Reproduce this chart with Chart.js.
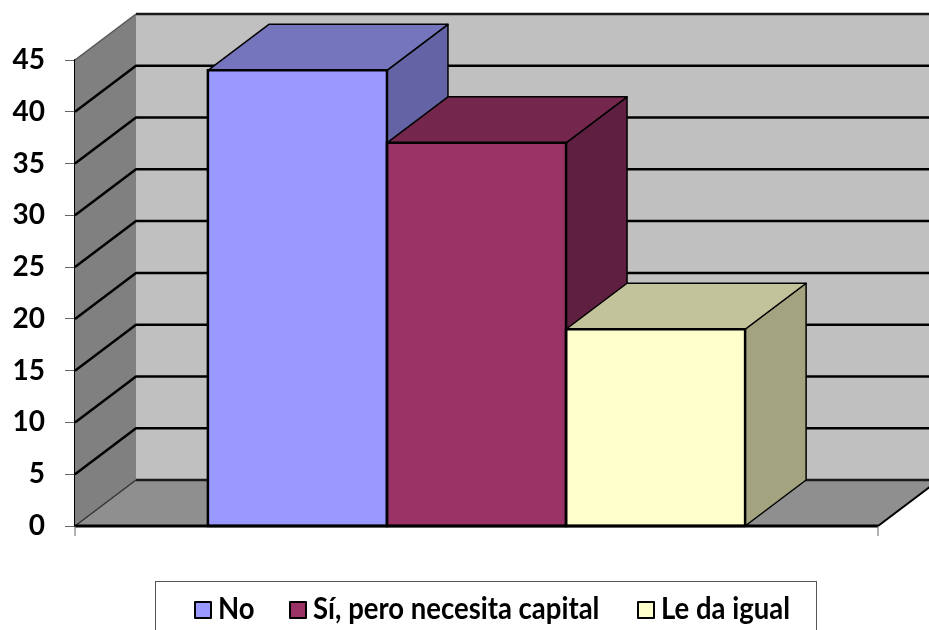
<!DOCTYPE html>
<html lang="es">
<head>
<meta charset="utf-8">
<title>Gráfico</title>
<style>
  html, body { margin:0; padding:0; background:#fff; overflow:hidden; }
  #wrap { position:relative; width:929px; height:630px; overflow:hidden; }
  #legend { position:absolute; left:155px; top:581px; width:660px; height:70px; border:1px solid #555; background:#fff; }
  .li { position:absolute; top:0; font:bold 27.5px Lato, sans-serif; color:#000; line-height:52px; white-space:nowrap; }
  .li i { position:absolute; left:0; top:19px; width:14px; height:14px; border:2.5px solid #000; border-radius:1px; }
  .li span { position:absolute; left:24px; top:0; transform:scaleY(1.12); transform-origin:left 28px; }
</style>
</head>
<body>
<div id="wrap">
  <canvas id="c" width="929" height="630"></canvas>
  <div id="legend"></div>
</div>
<script src="https://cdn.jsdelivr.net/npm/chart.js@4/dist/chart.umd.min.js"></script>
<script>
// ── DATA ──────────────────────────────────────────────────────────────────────
const categories = [''];
const seriesNames = ['No', 'Sí, pero necesita capital', 'Le da igual'];
const noValues = [44];
const siValues = [37];
const igualValues = [19];
const yTicks = [0, 5, 10, 15, 20, 25, 30, 35, 40, 45];

// ── COLOURS ───────────────────────────────────────────────────────────────────
const FRONT = ['#9999ff', '#993366', '#ffffcc'];
const TOP   = ['#7575bd', '#74264d', '#c2c29b'];
const SIDE  = ['#6363a5', '#5f1f40', '#a3a380'];

// depth of the fake 3D box
const DX = 61, DY = 46;

function poly(ctx, pts, fill, stroke, lw) {
  ctx.beginPath();
  pts.forEach((p, i) => i ? ctx.lineTo(p[0], p[1]) : ctx.moveTo(p[0], p[1]));
  ctx.closePath();
  if (fill) { ctx.fillStyle = fill; ctx.fill(); }
  if (stroke) { ctx.strokeStyle = stroke; ctx.lineWidth = lw; ctx.stroke(); }
}

function seg(ctx, pts, color, lw) {
  ctx.beginPath();
  pts.forEach((p, i) => i ? ctx.lineTo(p[0], p[1]) : ctx.moveTo(p[0], p[1]));
  ctx.strokeStyle = color;
  ctx.lineWidth = lw;
  ctx.stroke();
}

// ── WALLS, FLOOR AND BOX DEPTH ────────────────────────────────────────────────
const box3d = {
  id: 'box3d',
  beforeDatasetsDraw(chart) {
    const { ctx, chartArea: a, scales: { y } } = chart;
    const y0 = y.getPixelForValue(0), yMax = y.getPixelForValue(yTicks[yTicks.length - 1]);
    const far = a.right + DX;
    ctx.save();
    ctx.lineJoin = 'round';

    // back wall, side wall, floor
    poly(ctx, [[a.left + DX, yMax - DY], [far, yMax - DY], [far, y0 - DY], [a.left + DX, y0 - DY]], '#c0c0c0');
    poly(ctx, [[a.left, yMax], [a.left + DX, yMax - DY], [a.left + DX, y0 - DY], [a.left, y0]], '#808080');
    poly(ctx, [[a.left, y0], [a.left + DX, y0 - DY], [far, y0 - DY], [a.right, y0]], '#8f8f8f');

    // grid lines run along the side wall and across the back wall
    yTicks.forEach(t => {
      const py = y.getPixelForValue(t);
      if (t === 0) {
        seg(ctx, [[a.left, py], [a.left + DX, py - DY]], '#333', 1.5);
        seg(ctx, [[a.left + DX, py - DY], [far, py - DY]], '#1a1a1a', 2.5);
      } else if (t === yTicks[yTicks.length - 1]) {
        seg(ctx, [[a.left, py], [a.left + DX, py - DY]], '#555', 1.5);
        seg(ctx, [[a.left + DX, py - DY], [far, py - DY]], '#1a1a1a', 2.5);
      } else {
        seg(ctx, [[a.left, py], [a.left + DX, py - DY], [far, py - DY]], '#000', 2.5);
      }
    });
    seg(ctx, [[a.right, y0], [far, y0 - DY]], '#000', 2);

    // top and side face of each bar, left to right so each one overlaps the last
    chart.data.datasets.forEach((ds, i) => {
      const bar = chart.getDatasetMeta(i).data[0];
      const l = bar.x - bar.width / 2, r = bar.x + bar.width / 2, t = bar.y;
      poly(ctx, [[r, t], [r + DX, t - DY], [r + DX, y0 - DY], [r, y0]], SIDE[i], '#000', 1.5);
      poly(ctx, [[l, t], [l + DX, t - DY], [r + DX, t - DY], [r, t]], TOP[i], '#000', 1.5);
    });
    ctx.restore();
  },
  afterDatasetsDraw(chart) {
    const { ctx, chartArea: a, scales: { y } } = chart;
    const y0 = y.getPixelForValue(0);
    ctx.save();
    ctx.lineJoin = 'miter';
    // one outline per bar, the library insets its own border and doubles it where bars touch
    chart.data.datasets.forEach((ds, i) => {
      const bar = chart.getDatasetMeta(i).data[0];
      const l = bar.x - bar.width / 2, r = bar.x + bar.width / 2;
      poly(ctx, [[l, bar.y], [r, bar.y], [r, y0], [l, y0]], null, '#000', 2.5);
    });
    seg(ctx, [[a.left, y0], [a.right, y0]], '#000', 3);
    seg(ctx, [[a.left, y0], [a.left, y0 + 10]], '#666', 1);
    seg(ctx, [[a.right, y0], [a.right, y0 + 10]], '#666', 1);
    ctx.restore();
  }
};

// ── CHART ─────────────────────────────────────────────────────────────────────
const barOpts = { borderWidth:0, barPercentage:1, categoryPercentage:0.669 };

new Chart(document.getElementById('c').getContext('2d'), {
  type: 'bar',
  data: {
    labels: categories,
    datasets: [
      { label: seriesNames[0], data: noValues,    backgroundColor: FRONT[0], ...barOpts },
      { label: seriesNames[1], data: siValues,    backgroundColor: FRONT[1], ...barOpts },
      { label: seriesNames[2], data: igualValues, backgroundColor: FRONT[2], ...barOpts }
    ]
  },
  options: {
    responsive: false,
    animation: false,
    layout: { padding: { top: 60, right: 51, bottom: 96, left: 0 } },
    plugins: { legend: { display: false }, tooltip: { enabled: false } },
    scales: {
      x: {
        ticks: { display: false },
        grid: { display: false },
        border: { display: false }
      },
      y: {
        min: 0, max: 45,
        afterBuildTicks(s) { s.ticks = yTicks.map(v => ({ value: v })); },
        afterFit(s) { s.width = 75; },
        ticks: { color:'#000', padding: 20, font: { family:'Lato', size:28, weight:'bold' } },
        grid: { drawOnChartArea:false, drawTicks:true, tickLength:10, color:'#666' },
        border: { display:true, color:'#000', width:3 }
      }
    }
  },
  plugins: [box3d]
});

// ── LEGEND ────────────────────────────────────────────────────────────────────
const legendLeft = [38, 133, 481];
document.getElementById('legend').innerHTML = seriesNames.map((s, i) =>
  `<div class="li" style="left:${legendLeft[i]}px"><i style="background:${FRONT[i]}"></i><span>${s}</span></div>`
).join('');
</script>
</body>
</html>
